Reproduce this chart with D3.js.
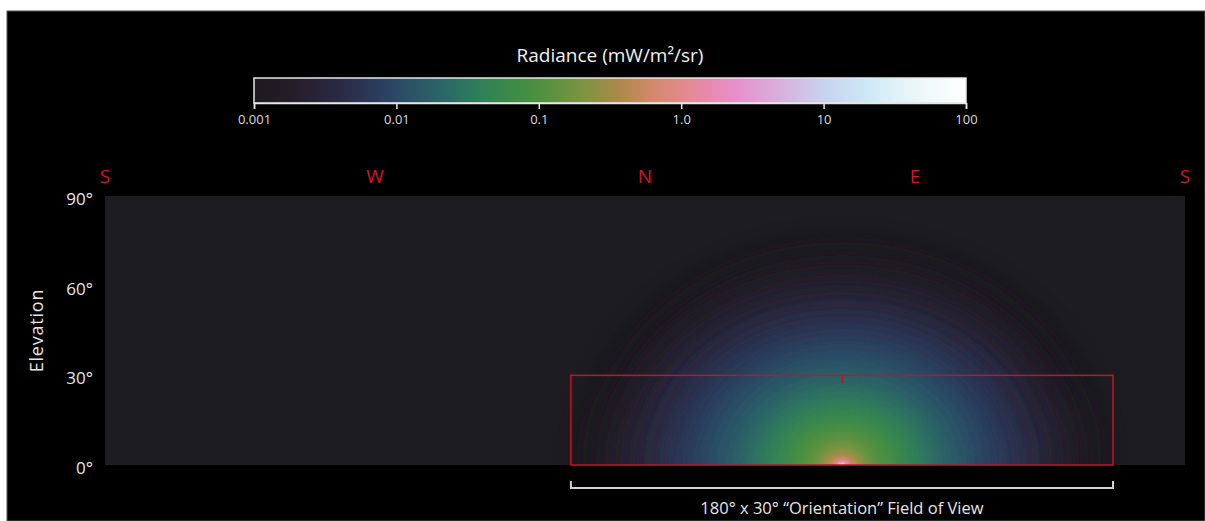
<!DOCTYPE html>
<html>
<head>
<meta charset="utf-8">
<script src="https://cdn.jsdelivr.net/npm/d3@7"></script>
<style>
body { margin: 0; background: #fff; }
text { font-family: "Open Sans", "DejaVu Sans", sans-serif; }
</style>
</head>
<body>
<div id="chart"></div>
<script>
var W = 1205, H = 521;
var plot = { left: 105, right: 1185, top: 196, bottom: 465 };

// colour bar
var cbarTicks = [0.001, 0.01, 0.1, 1, 10, 100];
var cbarTickLabels = ["0.001", "0.01", "0.1", "1.0", "10", "100"];
var cmapValues = [0.001, 0.002, 0.004, 0.007, 0.01, 0.02, 0.04, 0.07, 0.1, 0.2, 0.35, 0.6, 1, 1.5, 2.5, 5, 10, 20, 40, 100];
var cmapColors = ["#1c1a1e", "#261e2a", "#2a2a45", "#2c3a5a", "#2c4866", "#2b6468", "#318058", "#3f8c45", "#4e9040", "#7a9442",
	"#a88a48", "#d08868", "#e08a8a", "#e68aaa", "#e690cc", "#d8b0dc", "#c8d2ee", "#cde8f6", "#e8f4f8", "#ffffff"];

// axes
var compassAz = [0, 90, 180, 270, 360];
var compassLabels = ["S", "W", "N", "E", "S"];
var elevTicks = [0, 30, 60, 90];

// sun glow: radiance level and its angular extent (deg)
var sunAz = 245.7;
var glowLevels = [0.0013, 0.0018, 0.0024, 0.0032, 0.0045, 0.006, 0.008, 0.011, 0.015, 0.02, 0.028, 0.04, 0.055, 0.075, 0.1, 0.14, 0.2, 0.3, 0.45, 0.7, 1.2, 3, 30];
var glowAzRadius = [78, 74, 70, 66, 61, 56, 51, 46, 41, 36, 31, 27, 22, 18.5, 15, 11.5, 8.5, 6.5, 4.8, 3.4, 2.4, 1.5, 0.9];
var glowElRadius = [66, 62, 58, 54, 50, 46, 42, 38, 34, 30, 26, 22, 18, 15, 12.5, 10, 7, 5, 3.2, 2.2, 1.6, 1, 0.6];

// field of view box
var fovAz = [155.3, 336];
var fovEl = [0, 30];

var x = d3.scaleLinear().domain([0, 360]).range([plot.left, plot.right]);
var y = d3.scaleLinear().domain([0, 90]).range([plot.bottom, plot.top]);
var cmap = d3.scaleLog().domain(cmapValues).range(cmapColors).interpolate(d3.interpolateRgb).clamp(true);
var cx = d3.scaleLog().domain([0.001, 100]).range([254, 966]);

var svg = d3.select("#chart").append("svg").attr("width", W).attr("height", H);
var defs = svg.append("defs");

svg.append("rect").attr("width", W).attr("height", H).attr("fill", "#fff");
svg.append("rect").attr("x", 7).attr("y", 11).attr("width", W - 7).attr("height", H - 11)
	.attr("fill", "#000").attr("stroke", "#555").attr("stroke-width", 1);

// colour bar
var grad = defs.append("linearGradient").attr("id", "cbar");
cmapValues.forEach(function (v, i) {
	grad.append("stop")
		.attr("offset", (Math.log10(v) + 3) / 5)
		.attr("stop-color", cmapColors[i]);
});
svg.append("rect")
	.attr("x", cx(0.001)).attr("y", 78)
	.attr("width", cx(100) - cx(0.001)).attr("height", 25)
	.attr("fill", "url(#cbar)")
	.attr("stroke", "#e6e6e6").attr("stroke-width", 1.5);

var cAxis = svg.append("g")
	.attr("transform", "translate(0,103)")
	.call(d3.axisBottom(cx).tickValues(cbarTicks).tickSize(6).tickFormat(function (d, i) { return cbarTickLabels[i]; }));
cAxis.select(".domain").attr("stroke", "#e6e6e6").attr("stroke-width", 1.5);
cAxis.selectAll(".tick line").attr("stroke", "#e6e6e6").attr("stroke-width", 1.5);
cAxis.selectAll(".tick text").attr("fill", "#ddd").style("font-size", "13px").attr("dy", "0.95em");

svg.append("text")
	.attr("x", 610).attr("y", 62)
	.attr("text-anchor", "middle")
	.attr("fill", "#f2f2f2")
	.style("font-size", "19px")
	.text("Radiance (mW/m²/sr)");

// plot background
svg.append("rect")
	.attr("x", plot.left).attr("y", plot.top)
	.attr("width", plot.right - plot.left).attr("height", plot.bottom - plot.top)
	.attr("fill", "#1d1c21");

defs.append("clipPath").attr("id", "plotclip").append("rect")
	.attr("x", plot.left).attr("y", plot.top)
	.attr("width", plot.right - plot.left).attr("height", plot.bottom - plot.top);

var glow = svg.append("g").attr("clip-path", "url(#plotclip)");
glowLevels.forEach(function (lvl, i) {
	var rx = x(glowAzRadius[i]) - x(0);
	var ry = y(0) - y(glowElRadius[i]);
	defs.append("filter").attr("id", "blur" + i)
		.attr("x", "-50%").attr("y", "-50%").attr("width", "200%").attr("height", "200%")
		.append("feGaussianBlur").attr("stdDeviation", Math.max(1, rx * 0.12));
	glow.append("ellipse")
		.attr("cx", x(sunAz)).attr("cy", y(0))
		.attr("rx", rx).attr("ry", ry)
		.attr("fill", cmap(lvl))
		.attr("filter", "url(#blur" + i + ")");
});

// compass labels
svg.selectAll(".compass")
	.data(compassAz)
	.enter()
	.append("text")
	.attr("x", function (d) { return x(d); })
	.attr("y", 183)
	.attr("text-anchor", "middle")
	.attr("fill", "#d3162f")
	.style("font-size", "19px")
	.text(function (d, i) { return compassLabels[i]; });

// elevation axis
svg.selectAll(".elev")
	.data(elevTicks)
	.enter()
	.append("text")
	.attr("x", 93)
	.attr("y", function (d) { return y(d) + 9; })
	.attr("text-anchor", "end")
	.attr("fill", "#e6e6e6")
	.style("font-size", "17px")
	.text(function (d) { return d + "°"; });

svg.append("text")
	.attr("transform", "translate(43," + y(45) + ") rotate(-90)")
	.attr("text-anchor", "middle")
	.attr("fill", "#e6e6e6")
	.style("font-size", "18px")
	.style("letter-spacing", "0.8px")
	.text("Elevation");

// field of view box
svg.append("rect")
	.attr("x", x(fovAz[0])).attr("y", y(fovEl[1]))
	.attr("width", x(fovAz[1]) - x(fovAz[0]))
	.attr("height", y(fovEl[0]) - y(fovEl[1]))
	.attr("fill", "none")
	.attr("stroke", "#c8102e").attr("stroke-width", 1.5);
svg.append("line")
	.attr("x1", x(sunAz)).attr("x2", x(sunAz))
	.attr("y1", y(fovEl[1])).attr("y2", y(fovEl[1]) + 8)
	.attr("stroke", "#c8102e").attr("stroke-width", 2);

// bracket + caption
svg.append("path")
	.attr("d", "M" + x(fovAz[0]) + ",481V488H" + x(fovAz[1]) + "V481")
	.attr("fill", "none")
	.attr("stroke", "#d0d0d0").attr("stroke-width", 2);
svg.append("text")
	.attr("x", (x(fovAz[0]) + x(fovAz[1])) / 2).attr("y", 514)
	.attr("text-anchor", "middle")
	.attr("fill", "#e6e6e6")
	.style("font-size", "16.5px")
	.text("180° x 30° “Orientation” Field of View");
</script>
</body>
</html>
